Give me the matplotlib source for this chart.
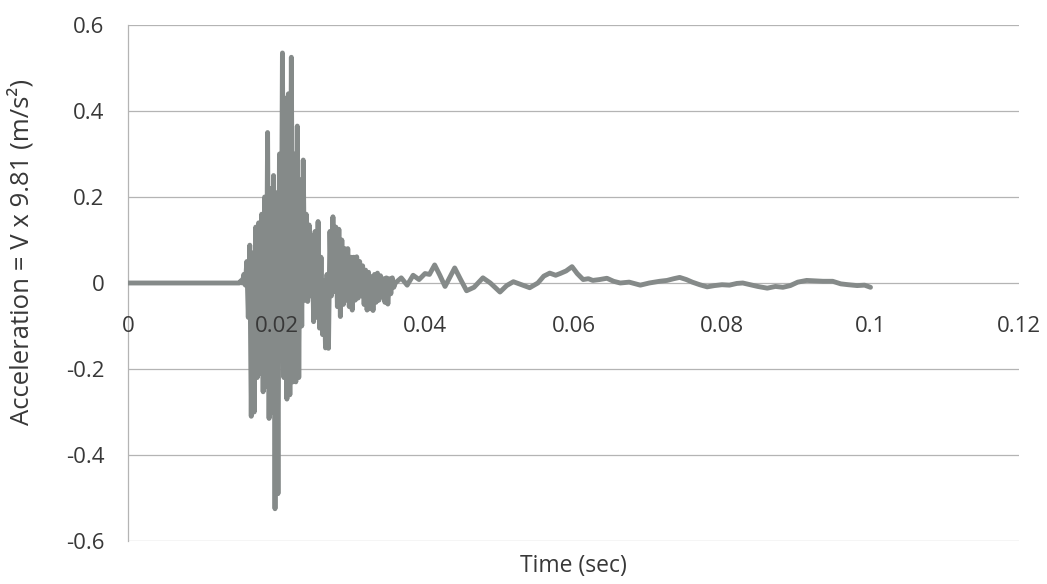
import numpy as np
import matplotlib
matplotlib.use("Agg")
import matplotlib.pyplot as plt

plt.rcParams['font.family'] = ['Open Sans', 'DejaVu Sans']

# Quiet lead-in before the impact (seconds, m/s^2)
lead_t = [0.0, 0.0150]
lead_v = [0.0, 0.0]

# Impact burst: one crest and one trough per 0.4 ms cycle, starting at 15.2 ms
burst_start = 0.0152
burst_period = 0.0004
burst_hi = [0.005, 0.02, 0.05, 0.088, 0.07, 0.13, 0.14, 0.16, 0.20, 0.35,
            0.22, 0.25, 0.21, 0.30, 0.535, 0.43, 0.44, 0.525, 0.30, 0.365,
            0.24, 0.286, 0.16, 0.135, 0.11, 0.12, 0.143, 0.06, 0.005, 0.02,
            0.12, 0.154, 0.13, 0.125, 0.10, 0.08, 0.08, 0.06, 0.06, 0.061,
            0.05, 0.04, 0.03, 0.025, 0.015, 0.02, 0.023, 0.017, 0.01, 0.012,
            0.01, 0.012]
burst_lo = [0.0, -0.005, -0.08, -0.31, -0.30, -0.22, -0.21, -0.253, -0.24, -0.315,
            -0.30, -0.525, -0.49, -0.18, -0.22, -0.27, -0.26, -0.23, -0.23, -0.22,
            -0.10, -0.04, -0.043, -0.03, -0.09, -0.08, -0.105, -0.12, -0.151, -0.152,
            -0.03, -0.02, -0.055, -0.078, -0.05, -0.04, -0.055, -0.063, -0.04, -0.035,
            -0.03, -0.05, -0.063, -0.06, -0.064, -0.045, -0.04, -0.03, -0.045, -0.049,
            -0.025, -0.01]

# Decaying tail (time in ms)
tail_ms = [36.0, 36.8, 37.6, 38.4, 39.2, 40.0, 40.6, 41.3, 42.0, 42.7,
           43.3, 44.0, 44.8, 45.6, 46.6, 47.8, 48.8, 50.1, 51.0, 51.9,
           53.0, 54.1, 55.2, 56.0, 56.8, 57.6, 58.2, 59.0, 59.8, 60.5,
           61.3, 62.0, 62.6, 63.5, 64.5, 65.4, 66.3, 67.5, 69.0, 70.2,
           71.6, 72.6, 73.5, 74.3, 75.2, 76.0, 77.0, 78.0, 79.0, 80.0,
           81.0, 82.0, 82.8, 83.8, 84.8, 86.1, 87.2, 88.2, 89.2, 90.2,
           91.4, 92.5, 93.6, 94.9, 96.0, 97.0, 98.2, 99.2, 100.0]
tail_v = [0.0, 0.012, -0.005, 0.018, 0.008, 0.022, 0.02, 0.042, 0.018, -0.008,
          0.012, 0.035, 0.008, -0.018, -0.01, 0.012, 0.0, -0.021, -0.006, 0.003,
          -0.004, -0.011, 0.0, 0.016, 0.023, 0.018, 0.022, 0.028, 0.038, 0.022,
          0.008, 0.01, 0.006, 0.008, 0.011, 0.004, 0.0, 0.002, -0.005, 0.0,
          0.004, 0.006, 0.01, 0.013, 0.008, 0.002, -0.004, -0.009, -0.006, -0.004,
          -0.005, -0.001, 0.0, -0.004, -0.008, -0.012, -0.008, -0.01, -0.006, 0.002,
          0.006, 0.005, 0.004, 0.004, -0.002, -0.004, -0.006, -0.005, -0.01]

x_ticks = [0, 0.02, 0.04, 0.06, 0.08, 0.1, 0.12]
x_labels = ["0", "0.02", "0.04", "0.06", "0.08", "0.1", "0.12"]
y_ticks = [-0.6, -0.4, -0.2, 0, 0.2, 0.4, 0.6]
y_labels = ["-0.6", "-0.4", "-0.2", "0", "0.2", "0.4", "0.6"]

# Assemble the full trace
n = len(burst_hi)
t_crest = burst_start + burst_period * np.arange(n)
t_trough = t_crest + burst_period / 2
burst_t = np.column_stack([t_crest, t_trough]).ravel()
burst_v = np.column_stack([burst_hi, burst_lo]).ravel()
t = np.concatenate([lead_t, burst_t, np.array(tail_ms) / 1000.0])
v = np.concatenate([lead_v, burst_v, tail_v])

fig = plt.figure(figsize=(10.47, 5.84), dpi=100)
ax = fig.add_axes([128 / 1047, 1 - 541 / 584, (1019 - 128) / 1047, (541 - 25) / 584])

text_color = "#383838"
grid_color = "#b4b4b4"

ax.plot(t, v, color="#858a89", lw=3.5, solid_joinstyle="round",
        solid_capstyle="round", zorder=3)

ax.set_xlim(0, 0.12)
ax.set_ylim(-0.6, 0.6)
ax.set_yticks(y_ticks)
ax.set_yticklabels(y_labels)
ax.set_xticks([])
ax.set_axisbelow(True)
ax.yaxis.grid(True, color=grid_color, lw=0.9)
for side in ("top", "right", "bottom"):
    ax.spines[side].set_visible(False)
ax.spines["left"].set_color(grid_color)
ax.spines["left"].set_linewidth(0.9)
ax.tick_params(axis="y", length=0, pad=17, labelsize=16, labelcolor=text_color)

# Category labels sit just beneath the zero line
for xt, lab in zip(x_ticks, x_labels):
    ax.text(xt, -0.1, lab, ha="center", va="center", fontsize=16,
            color=text_color, zorder=5)

fig.text(573 / 1047, 1 - 566 / 584, "Time (sec)", ha="center", va="center",
         fontsize=16.5, color=text_color)
fig.text(21 / 1047, 1 - 252 / 584, "Acceleration = V x 9.81 (m/s²)", ha="center",
         va="center", rotation=90, fontsize=18.5, color=text_color)

fig.savefig("out.png", dpi=100, facecolor="white")
